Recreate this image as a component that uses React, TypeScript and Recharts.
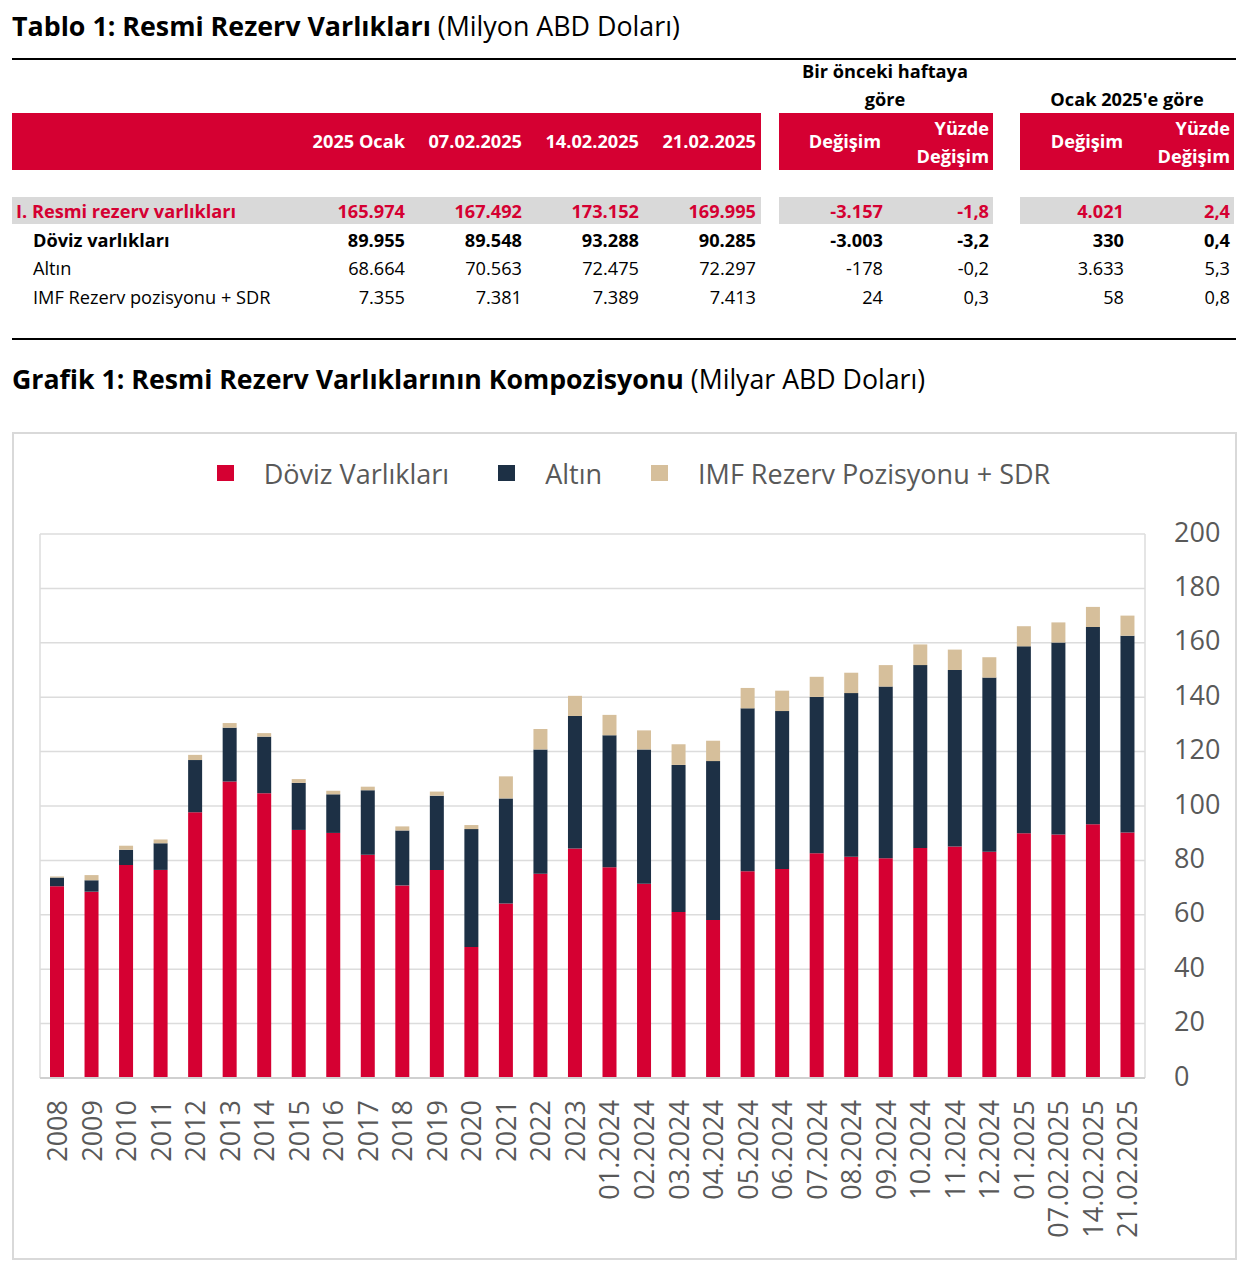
import React from "react";
import { BarChart, Bar, XAxis, YAxis, CartesianGrid } from "recharts";

// ---------- Table data ----------
const headerDates = ["2025 Ocak", "07.02.2025", "14.02.2025", "21.02.2025"];
const rowLabels = ["I. Resmi rezerv varlıkları", "Döviz varlıkları", "Altın", "IMF Rezerv pozisyonu + SDR"];
const valOcak2025 = ["165.974", "89.955", "68.664", "7.355"];
const val070225 = ["167.492", "89.548", "70.563", "7.381"];
const val140225 = ["173.152", "93.288", "72.475", "7.389"];
const val210225 = ["169.995", "90.285", "72.297", "7.413"];
const weeklyChange = ["-3.157", "-3.003", "-178", "24"];
const weeklyPct = ["-1,8", "-3,2", "-0,2", "0,3"];
const janChange = ["4.021", "330", "3.633", "58"];
const janPct = ["2,4", "0,4", "5,3", "0,8"];

// ---------- Chart data (Milyar ABD Doları) ----------
const categories = [
  "2008", "2009", "2010", "2011", "2012", "2013", "2014", "2015", "2016", "2017", "2018", "2019",
  "2020", "2021", "2022", "2023", "01.2024", "02.2024", "03.2024", "04.2024", "05.2024", "06.2024",
  "07.2024", "08.2024", "09.2024", "10.2024", "11.2024", "12.2024", "01.2025", "07.02.2025",
  "14.02.2025", "21.02.2025",
];
const doviz = [70.5, 68.5, 78.3, 76.5, 97.7, 109.0, 104.7, 91.2, 90.1, 82.1, 70.8, 76.5, 48.2, 64.2, 75.1, 84.4,
  77.5, 71.4, 61.0, 58.1, 76.0, 76.8, 82.6, 81.3, 80.8, 84.6, 85.1, 83.2, 90.0, 89.5, 93.3, 90.3];
const altin = [3.2, 4.2, 5.6, 9.8, 19.2, 19.8, 20.8, 17.3, 14.2, 23.7, 20.2, 27.3, 43.3, 38.6, 45.7, 48.7,
  48.5, 49.4, 54.1, 58.4, 59.9, 58.1, 57.5, 60.2, 63.1, 67.2, 64.9, 64.0, 68.7, 70.6, 72.5, 72.3];
const imf = [0.4, 1.9, 1.5, 1.4, 1.9, 1.7, 1.3, 1.4, 1.3, 1.3, 1.5, 1.5, 1.5, 8.1, 7.5, 7.4,
  7.5, 7.0, 7.6, 7.5, 7.5, 7.5, 7.4, 7.5, 7.9, 7.6, 7.5, 7.5, 7.4, 7.4, 7.4, 7.4];
const yTicks = [0, 20, 40, 60, 80, 100, 120, 140, 160, 180, 200];
const seriesNames = ["Döviz Varlıkları", "Altın", "IMF Rezerv Pozisyonu + SDR"];

const RED = "#d50032";
const NAVY = "#1d3045";
const TAN = "#d6bf9b";
const GRAY_TXT = "#595959";
const FONT = '"Open Sans", sans-serif';
const seriesColors = [RED, NAVY, TAN];

const chartData = categories.map((c, i) => ({ name: c, doviz: doviz[i], altin: altin[i], imf: imf[i] }));

type TxtProps = {
  x: number; y: number; w?: number; align?: "left" | "right" | "center";
  bold?: boolean; color?: string; size?: number; children: React.ReactNode;
};
function Txt({ x, y, w = 300, align = "left", bold = false, color = "#000", size = 18.2, children }: TxtProps) {
  const left = align === "left" ? x : align === "right" ? x - w : x - w / 2;
  return (
    <div
      style={{
        position: "absolute", left, top: y - size * 0.66, width: w, height: size * 1.4,
        lineHeight: `${size * 1.4}px`, textAlign: align, fontWeight: bold ? 700 : 400, color,
        fontSize: size, fontFamily: FONT, whiteSpace: "nowrap",
      }}
    >
      {children}
    </div>
  );
}

function Box({ x, y, w, h, color }: { x: number; y: number; w: number; h: number; color: string }) {
  return <div style={{ position: "absolute", left: x, top: y, width: w, height: h, background: color }} />;
}

const XTick = (props: any) => {
  const { x, y, payload } = props;
  const yy = y + 22;
  return (
    <text x={x} y={yy} dy="0.36em" transform={`rotate(-90, ${x}, ${yy})`} textAnchor="end"
      fill={GRAY_TXT} fontSize={27} fontFamily={FONT}>
      {payload.value}
    </text>
  );
};

const YTick = (props: any) => {
  const { x, y, payload } = props;
  return (
    <text x={x} y={y - 2} dy="0.355em" textAnchor="start" fill={GRAY_TXT} fontSize={27} fontFamily={FONT}>
      {payload.value}
    </text>
  );
};

export default function App() {
  const colRight = [405, 522, 639, 756];
  const rowY = [211, 240, 268, 297];
  const blocks = [
    { x: 12, w: 749 },
    { x: 779, w: 214 },
    { x: 1020, w: 214 },
  ];
  const dataCols = [valOcak2025, val070225, val140225, val210225];

  return (
    <div style={{ position: "absolute", left: 0, top: 0, width: 1260, height: 1276, background: "#fff", overflow: "hidden" }}>
      {/* Table title */}
      <Txt x={12} y={25} w={900} size={26.8} bold>
        Tablo 1: Resmi Rezerv Varlıkları <span style={{ fontWeight: 400 }}>(Milyon ABD Doları)</span>
      </Txt>
      <Box x={12} y={58} w={1224} h={2} color="#000" />

      {/* group headers */}
      <Txt x={885} y={71} w={240} align="center" bold>Bir önceki haftaya</Txt>
      <Txt x={885} y={99} w={240} align="center" bold>göre</Txt>
      <Txt x={1127} y={99} w={240} align="center" bold>Ocak 2025'e göre</Txt>

      {/* red header bands */}
      {blocks.map((b, i) => (
        <Box key={"rb" + i} x={b.x} y={113} w={b.w} h={57} color={RED} />
      ))}
      {headerDates.map((d, i) => (
        <Txt key={"hd" + i} x={colRight[i]} y={141} w={115} align="right" bold color="#fff">{d}</Txt>
      ))}
      <Txt x={845} y={141} w={120} align="center" bold color="#fff">Değişim</Txt>
      <Txt x={989} y={128} w={120} align="right" bold color="#fff">Yüzde</Txt>
      <Txt x={989} y={156} w={120} align="right" bold color="#fff">Değişim</Txt>
      <Txt x={1087} y={141} w={120} align="center" bold color="#fff">Değişim</Txt>
      <Txt x={1230} y={128} w={120} align="right" bold color="#fff">Yüzde</Txt>
      <Txt x={1230} y={156} w={120} align="right" bold color="#fff">Değişim</Txt>

      {/* gray total band */}
      {blocks.map((b, i) => (
        <Box key={"gb" + i} x={b.x} y={197} w={b.w} h={27} color="#d9d9d9" />
      ))}

      {/* rows */}
      {rowLabels.map((lab, r) => {
        const color = r === 0 ? RED : "#000";
        const bold = r <= 1;
        return (
          <React.Fragment key={"row" + r}>
            <Txt x={r === 0 ? 16 : 33} y={rowY[r]} w={300} bold={bold} color={color}>{lab}</Txt>
            {dataCols.map((col, c) => (
              <Txt key={"c" + c} x={colRight[c]} y={rowY[r]} w={110} align="right" bold={bold} color={color}>{col[r]}</Txt>
            ))}
            <Txt x={883} y={rowY[r]} w={100} align="right" bold={bold} color={color}>{weeklyChange[r]}</Txt>
            <Txt x={989} y={rowY[r]} w={100} align="right" bold={bold} color={color}>{weeklyPct[r]}</Txt>
            <Txt x={1124} y={rowY[r]} w={100} align="right" bold={bold} color={color}>{janChange[r]}</Txt>
            <Txt x={1230} y={rowY[r]} w={100} align="right" bold={bold} color={color}>{janPct[r]}</Txt>
          </React.Fragment>
        );
      })}
      <Box x={12} y={338} w={1224} h={2} color="#000" />

      {/* Chart title */}
      <Txt x={12} y={378} w={1200} size={26.7} bold>
        Grafik 1: Resmi Rezerv Varlıklarının Kompozisyonu <span style={{ fontWeight: 400 }}>(Milyar ABD Doları)</span>
      </Txt>

      {/* Chart frame */}
      <div style={{ position: "absolute", left: 12, top: 432, width: 1225, height: 828, border: "2px solid #d9d9d9", boxSizing: "border-box" }} />

      {/* Legend */}
      <div style={{ position: "absolute", left: 21, top: 455, width: 1225, height: 36, display: "flex", justifyContent: "center", alignItems: "center", fontFamily: FONT, fontSize: 27, color: GRAY_TXT }}>
        {seriesNames.map((n, i) => (
          <div key={n} style={{ display: "flex", alignItems: "center", marginLeft: i === 0 ? 0 : 49 }}>
            <div style={{ width: 17, height: 16, background: seriesColors[i], marginRight: 30 }} />
            <span style={{ whiteSpace: "nowrap" }}>{n}</span>
          </div>
        ))}
      </div>

      <div style={{ position: "absolute", left: 12, top: 432 }}>
        <BarChart width={1225} height={828} data={chartData} margin={{ top: 102, right: 0, left: 28, bottom: 12 }}>
          <CartesianGrid
            stroke="#dcdcdc"
            strokeWidth={1.5}
            verticalCoordinatesGenerator={({ offset }: any) => [offset.left, offset.left + offset.width]}
          />
          <XAxis
            dataKey="name"
            interval={0}
            height={170}
            tickLine={false}
            tickSize={0}
            tickMargin={0}
            axisLine={{ stroke: "#d0d0d0", strokeWidth: 2 }}
            tick={<XTick />}
          />
          <YAxis
            orientation="right"
            domain={[0, 200]}
            ticks={yTicks}
            width={92}
            axisLine={false}
            tickLine={false}
            tickSize={0}
            tickMargin={29}
            tick={<YTick />}
          />
          <Bar dataKey="doviz" stackId="a" fill={RED} barSize={14} isAnimationActive={false} />
          <Bar dataKey="altin" stackId="a" fill={NAVY} barSize={14} isAnimationActive={false} />
          <Bar dataKey="imf" stackId="a" fill={TAN} barSize={14} isAnimationActive={false} />
        </BarChart>
      </div>
    </div>
  );
}
